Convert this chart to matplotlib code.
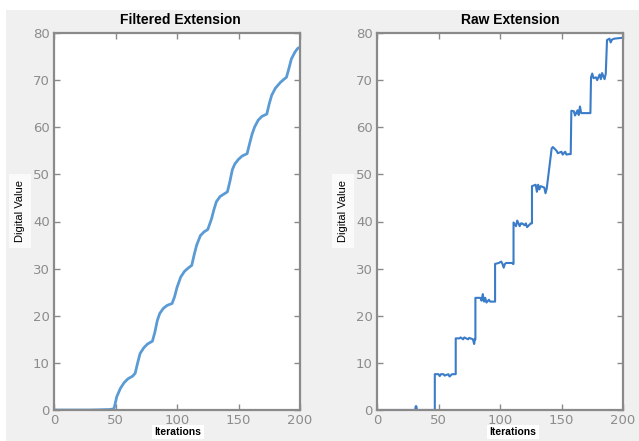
import numpy as np
import matplotlib
matplotlib.use("Agg")
import matplotlib.pyplot as plt
from matplotlib.patches import Rectangle

# ── data ──
filt_x = [0, 30, 45, 48, 49, 51, 54, 57, 60, 64, 66, 68, 70, 73, 76, 80, 82, 84, 86,
          89, 92, 96, 98, 100, 103, 106, 109, 112, 114, 116, 119, 122, 125, 128,
          130, 132, 135, 138, 141, 143, 145, 147, 150, 153, 157, 159, 161, 163,
          166, 169, 173, 175, 177, 180, 184, 187, 189, 191, 193, 196, 198, 200]
filt_y = [0, 0, 0.1, 0.2, 0.5, 2.8, 4.6, 5.8, 6.6, 7.2, 7.8, 10.0, 12.0, 13.2, 14.0,
          14.6, 16.5, 19.0, 20.5, 21.6, 22.2, 22.6, 24.0, 26.0, 28.2, 29.4, 30.1,
          30.7, 33.0, 35.0, 37.0, 37.8, 38.3, 40.5, 42.5, 44.2, 45.3, 45.8, 46.3,
          48.5, 51.0, 52.2, 53.2, 53.9, 54.4, 56.5, 58.5, 60.0, 61.5, 62.3, 62.8,
          65.0, 66.8, 68.3, 69.5, 70.2, 70.6, 72.5, 74.5, 76.0, 76.7, 77.0]

raw_x = [0, 31, 31.5, 32, 32.5, 47, 47, 50, 51, 52, 54, 55, 58, 59, 61, 62, 64, 64,
         67, 68, 70, 71, 74, 75, 78, 79, 79.5, 80, 80, 84, 85, 86, 87, 88, 89, 91,
         92, 96, 96, 99, 101, 102, 103, 104, 105, 110, 110.5, 111, 111, 113, 114,
         116, 117, 118, 120, 121, 122, 125, 125.5, 126, 126, 129, 130, 131, 132,
         133, 136, 137, 138, 142, 143, 146, 147, 150, 151, 153, 154, 156, 157.5,
         158, 160, 161, 163, 164, 165, 166, 170, 171, 172, 173.5, 174, 175, 176,
         178, 179, 181, 182, 183, 185, 186, 187, 189, 190, 191, 193, 200]
raw_y = [0, 0, 0.8, 0.8, 0, 0, 7.6, 7.6, 7.2, 7.6, 7.6, 7.3, 7.6, 7.1, 7.6, 7.6, 7.6,
         15.2, 15.2, 15.4, 15.0, 15.4, 15.0, 15.3, 15.0, 14.0, 15.0, 15.0, 23.8,
         23.8, 23.2, 24.6, 23.0, 23.8, 22.8, 23.4, 23.0, 23.0, 31.0, 31.2, 31.5,
         31.0, 30.2, 31.0, 31.2, 31.2, 31.0, 31.0, 39.8, 39.0, 40.2, 39.0, 39.6,
         39.6, 39.2, 39.6, 38.8, 39.6, 39.6, 39.6, 47.5, 47.8, 46.3, 47.8, 46.8,
         47.5, 47.2, 46.0, 47.0, 55.5, 55.8, 55.0, 54.5, 54.8, 54.2, 54.8, 54.2,
         54.3, 54.3, 63.5, 63.4, 62.5, 63.6, 62.6, 64.4, 63.0, 63.0, 63.0, 63.0,
         63.0, 70.6, 71.4, 70.4, 70.6, 70.0, 71.2, 70.2, 71.5, 70.2, 71.4, 78.5,
         78.8, 78.0, 78.6, 78.8, 79.0]

titles = ["Filtered Extension", "Raw Extension"]
ticks_x = [0, 50, 100, 150, 200]
ticks_y = [0, 10, 20, 30, 40, 50, 60, 70, 80]

W, H = 639, 441
fig = plt.figure(figsize=(W / 100, H / 100), dpi=100, facecolor="white")
fig.add_artist(Rectangle((6 / W, 0), 1, 1 - 10 / H, transform=fig.transFigure,
                         facecolor="#f0f0f0", edgecolor="none", zorder=0))

ax_l = fig.add_axes([54 / W, 31 / H, 246 / W, 377 / H])
ax_r = fig.add_axes([377 / W, 31 / H, 246 / W, 377 / H])

ax_l.plot(filt_x, filt_y, color="#5b9bd5", lw=2.0, solid_capstyle="round")
ax_r.plot(raw_x, raw_y, color="#3a7cc7", lw=1.5)

for ax, title, cx in [(ax_l, titles[0], 180), (ax_r, titles[1], 510)]:
    ax.set_facecolor("white")
    ax.set_xlim(0, 200)
    ax.set_ylim(0, 80)
    ax.set_xticks(ticks_x)
    ax.set_yticks(ticks_y)
    ax.tick_params(direction="in", length=4, width=1, color="#8a8a8a",
                   labelcolor="#8c8c8c", labelsize=9.5, top=True, right=True, pad=3)
    for s in ax.spines.values():
        s.set_color("#8a8a8a")
        s.set_linewidth(1.6)
    fig.text(cx / W, 1 - 20 / H, title, ha="center", va="center",
             fontsize=10, fontweight="bold", family="Liberation Sans")

for cx in (178, 513):
    fig.text(cx / W, 1 - 432 / H, "Iterations", ha="center", va="center",
             fontsize=7.5, fontweight="bold", family="Liberation Sans",
             bbox=dict(facecolor="white", edgecolor="none", pad=1.5))
for cx in (20, 343):
    fig.text(cx / W, 1 - 211 / H, "Digital Value", ha="center", va="center",
             fontsize=8, rotation=90, family="Liberation Sans",
             bbox=dict(facecolor="#fafafa", edgecolor="none", pad=4))

fig.savefig("out.png", dpi=100, facecolor=fig.get_facecolor())
